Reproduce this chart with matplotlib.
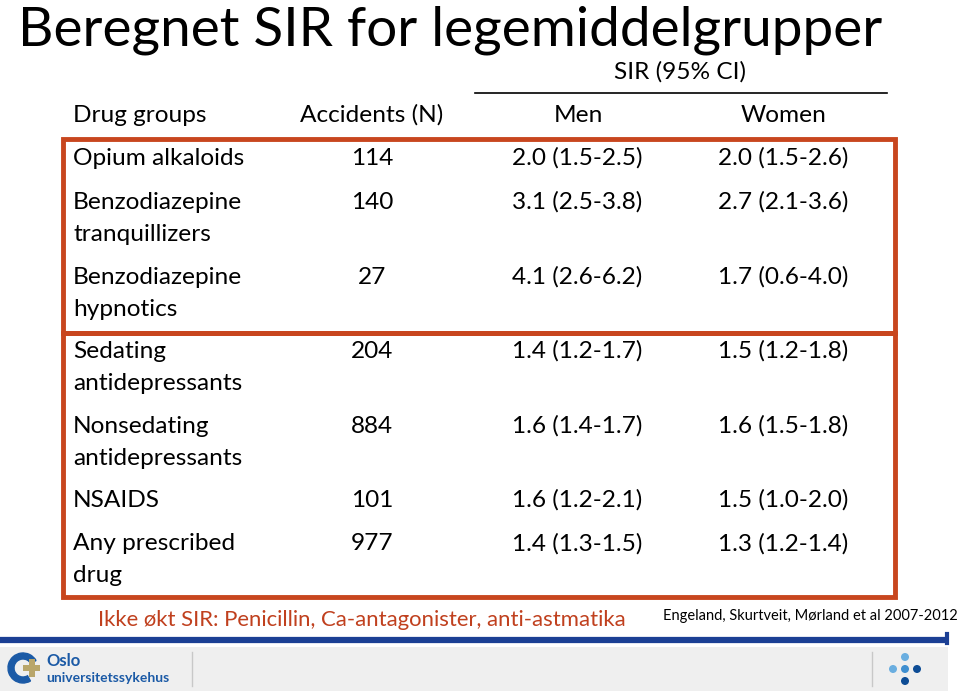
import matplotlib.pyplot as plt
from matplotlib.patches import Rectangle, Circle, Wedge

plt.rcParams['font.family'] = ['Lato', 'DejaVu Sans']

title = "Beregnet SIR for legemiddelgrupper"
columns = ["Drug groups", "Accidents (N)", "Men", "Women"]
groups = ["Opium alkaloids", "Benzodiazepine\ntranquillizers", "Benzodiazepine\nhypnotics",
          "Sedating\nantidepressants", "Nonsedating\nantidepressants", "NSAIDS",
          "Any prescribed\ndrug"]
accidents = [114, 140, 27, 204, 884, 101, 977]
men = ["2.0 (1.5-2.5)", "3.1 (2.5-3.8)", "4.1 (2.6-6.2)", "1.4 (1.2-1.7)",
       "1.6 (1.4-1.7)", "1.6 (1.2-2.1)", "1.4 (1.3-1.5)"]
women = ["2.0 (1.5-2.6)", "2.7 (2.1-3.6)", "1.7 (0.6-4.0)", "1.5 (1.2-1.8)",
         "1.6 (1.5-1.8)", "1.5 (1.0-2.0)", "1.3 (1.2-1.4)"]
note = "Ikke økt SIR: Penicillin, Ca-antagonister, anti-astmatika"
source = "Engeland, Skurtveit, Mørland et al 2007-2012"

# layout (pixels)
row_y = [158, 202, 277, 351, 426, 500, 544]
line_h = 32
fs = 17.6
red = "#c8461e"
blue = "#1b3f94"

fig = plt.figure(figsize=(9.6, 6.91), dpi=100)
ax = fig.add_axes([0, 0, 1, 1])
ax.set_xlim(0, 960)
ax.set_ylim(691, 0)
ax.axis("off")

ax.text(18, 45, title, fontsize=39.5, va="baseline", ha="left")

ax.text(680, 72, "SIR (95% CI)", fontsize=fs, ha="center", va="center")
ax.plot([475, 887], [93, 93], color="black", lw=1.2)
ax.text(73, 115, columns[0], fontsize=fs, ha="left", va="center")
ax.text(372, 115, columns[1], fontsize=fs, ha="center", va="center")
ax.text(578, 115, columns[2], fontsize=fs, ha="center", va="center")
ax.text(784, 115, columns[3], fontsize=fs, ha="center", va="center")

for y, g, n, m, w in zip(row_y, groups, accidents, men, women):
    for i, part in enumerate(g.split("\n")):
        ax.text(73, y + i * line_h, part, fontsize=fs, ha="left", va="center")
    ax.text(372, y, str(n), fontsize=fs, ha="center", va="center")
    ax.text(512, y, m, fontsize=fs, ha="left", va="center")
    ax.text(718, y, w, fontsize=fs, ha="left", va="center")

# red boxes
ax.add_patch(Rectangle((63, 139), 832, 194, fill=False, ec=red, lw=3.5))
ax.add_patch(Rectangle((63, 333), 832, 264, fill=False, ec=red, lw=3.5))

ax.text(98, 620, note, fontsize=15.9, color="#c0401e", ha="left", va="center")
ax.text(663, 616, source, fontsize=10.5, ha="left", va="center")

# footer
ax.add_patch(Rectangle((0, 647), 948, 44, color="#efefef", lw=0))
ax.plot([0, 949], [640, 640], color=blue, lw=4.5, solid_capstyle="butt")
ax.plot([947, 947], [634, 643], color=blue, lw=3)
ax.plot([192, 192], [652, 686], color="#c8c8c8", lw=1)
ax.plot([872, 872], [652, 686], color="#c8c8c8", lw=1)

# logo
ax.add_patch(Wedge((23, 668), 15, 60, 330, width=6, color="#1b5aa6"))
ax.add_patch(Rectangle((23, 665), 17, 6, color="#b9a66a", lw=0))
ax.add_patch(Rectangle((28.5, 659), 6, 18, color="#b9a66a", lw=0))
ax.text(46, 661, "Oslo", fontsize=12, color="#1b5aa6", ha="left", va="center",
        fontweight="bold")
ax.text(46, 678, "universitetssykehus", fontsize=10, color="#1b5aa6", ha="left",
        va="center", fontweight="bold")

for (cx, cy, c) in [(905, 657, "#6aaee0"), (893, 669, "#6aaee0"),
                    (905, 669, "#3f8fd0"), (917, 669, "#0d4c95"), (905, 681, "#0d4c95")]:
    ax.add_patch(Circle((cx, cy), 4, color=c, lw=0))

fig.savefig("out.png")
plt.close(fig)
